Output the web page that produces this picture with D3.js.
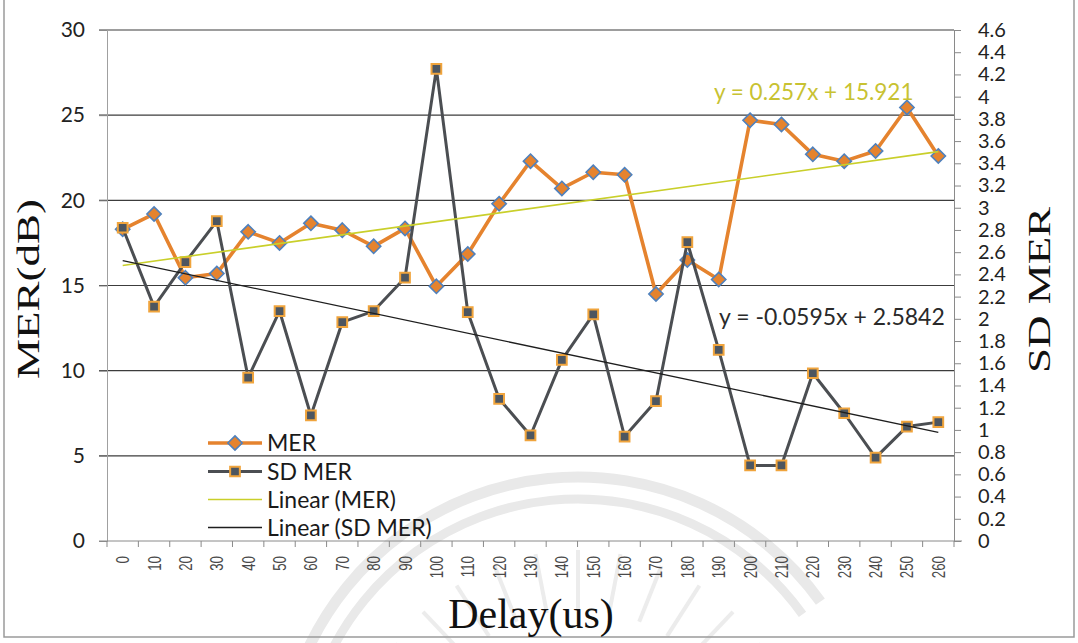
<!DOCTYPE html>
<html><head><meta charset="utf-8">
<script src="https://cdn.jsdelivr.net/npm/d3@7"></script>
<style>body{margin:0;background:#fff}svg{display:block}</style>
</head><body>
<svg id="chart" width="1078" height="643"></svg>
<script>
// Delay sweep (us) and the measured MER statistics
const delays = [0,10,20,30,40,50,60,70,80,90,100,110,120,130,140,150,160,170,180,190,200,210,220,230,240,250,260];
const mer = [18.3,19.2,15.45,15.7,18.15,17.5,18.65,18.25,17.3,18.35,14.95,16.85,19.8,22.3,20.7,21.65,21.5,14.5,16.5,15.35,24.7,24.45,22.7,22.3,22.9,25.45,22.6];
const sdMer = [2.82,2.11,2.51,2.88,1.47,2.07,1.13,1.97,2.07,2.37,4.25,2.06,1.28,0.95,1.63,2.04,0.94,1.26,2.69,1.72,0.68,0.68,1.51,1.15,0.75,1.03,1.07];
const merTicks = [0,5,10,15,20,25,30];
const sdTicks = [0,0.2,0.4,0.6,0.8,1,1.2,1.4,1.6,1.8,2,2.2,2.4,2.6,2.8,3,3.2,3.4,3.6,3.8,4,4.2,4.4,4.6];
// Linear trend coefficients [slope, intercept] over point index 1..n
const merFit = [0.257, 15.921];
const sdFit = [-0.0595, 2.5842];
const merFitLabel = "y = 0.257x + 15.921";
const sdFitLabel = "y = -0.0595x + 2.5842";
const legendLabels = ["MER", "SD MER", "Linear (MER)", "Linear (SD MER)"];

const svg = d3.select("#chart");
const L = 107, R = 954, T = 30, B = 541;
const sans = "Lato, 'Open Sans', sans-serif";
const serif = "'Liberation Serif', 'DejaVu Serif', serif";

const x = d3.scaleBand().domain(delays).range([L, R]);
const cx = d => x(d) + x.bandwidth() / 2;
const yL = d3.scaleLinear().domain([0, 30]).range([B, T]);
const yR = d3.scaleLinear().domain([0, 4.6]).range([B, T]);

// faint background emblem
const wm = svg.append("g");
const wc = [578, 775];
[[298, 11], [276, 9]].forEach(([r, w]) => {
  wm.append("path")
    .attr("d", d3.arc().innerRadius(r - w / 2).outerRadius(r + w / 2).startAngle(-1.15).endAngle(0.95)())
    .attr("transform", `translate(${wc})`).attr("fill", "#e9e9e9");
});
d3.range(-0.95, 0.96, 0.19).forEach(a => {
  const r0 = 165, r1 = 225;
  wm.append("line")
    .attr("x1", wc[0] + r0 * Math.sin(a)).attr("y1", wc[1] - r0 * Math.cos(a))
    .attr("x2", wc[0] + r1 * Math.sin(a)).attr("y2", wc[1] - r1 * Math.cos(a))
    .attr("stroke-width", 4).attr("stroke", "#ececec");
});

// outer frame
svg.append("path").attr("d", "M4,0 V637 H1074 V0").attr("fill", "none").attr("stroke", "#9a9a9a").attr("stroke-width", 1.5);

// horizontal gridlines on the primary scale
svg.append("g").selectAll("line").data(merTicks.filter(v => v > 0)).join("line")
  .attr("x1", L - 8).attr("x2", R).attr("y1", d => yL(d)).attr("y2", d => yL(d))
  .attr("stroke", "#3c3c3c").attr("stroke-width", 1.2);

// left axis
const gL = svg.append("g").attr("transform", `translate(${L},0)`)
  .call(d3.axisLeft(yL).tickValues(merTicks).tickSize(8).tickPadding(14).tickFormat(d3.format("d")));
gL.select(".domain").attr("stroke", "#a0a0a0");
gL.selectAll(".tick line").attr("stroke", "#8a8a8a");
gL.selectAll("text").attr("font-family", sans).attr("font-size", 21).attr("fill", "#222");

// right axis
const gR = svg.append("g").attr("transform", `translate(${R},0)`)
  .call(d3.axisRight(yR).tickValues(sdTicks).tickSize(7).tickPadding(17).tickFormat(d3.format("~g")));
gR.select(".domain").attr("stroke", "#8a8a8a");
gR.selectAll(".tick line").attr("stroke", "#8a8a8a");
gR.selectAll("text").attr("font-family", sans).attr("font-size", 20).attr("fill", "#222");

// bottom axis: ticks on category boundaries, rotated labels at centres
const gB = svg.append("g");
gB.append("line").attr("x1", L - 8).attr("x2", R + 8).attr("y1", B).attr("y2", B).attr("stroke", "#8a8a8a");
gB.selectAll(".bt").data(delays.concat([null])).join("line")
  .attr("x1", (d, i) => L + i * x.bandwidth()).attr("x2", (d, i) => L + i * x.bandwidth())
  .attr("y1", B).attr("y2", B + 6).attr("stroke", "#8a8a8a");
gB.selectAll("text").data(delays).join("text")
  .attr("transform", d => `translate(${cx(d)},556) rotate(-90) scale(0.74,1)`)
  .attr("text-anchor", "end").attr("dy", "0.36em")
  .attr("font-family", "'Liberation Sans', Arial, sans-serif").attr("font-size", 18).attr("fill", "#4a4a4a")
  .text(d => d);

// axis titles
svg.append("text").attr("transform", "translate(39,289) rotate(-90) scale(1,0.68)")
  .attr("text-anchor", "middle").attr("font-family", serif).attr("font-size", 45).attr("fill", "#111").text("MER(dB)");
svg.append("text").attr("transform", "translate(1050,290) rotate(-90) scale(1,0.7)")
  .attr("text-anchor", "middle").attr("font-family", serif).attr("font-size", 45).attr("fill", "#111").text("SD MER");
svg.append("text").attr("x", 531).attr("y", 628)
  .attr("text-anchor", "middle").attr("font-family", serif).attr("font-size", 42).attr("fill", "#111").text("Delay(us)");

const orange = "#E5832E", blueEdge = "#4F81BD", grayLine = "#4b4e52", sqFill = "#4d5660", sqEdge = "#F0A43C";
const diamond = d3.symbol().type(d3.symbolDiamond2).size(130);
const square = d3.symbol().type(d3.symbolSquare2).size(120);

// MER series (primary axis)
svg.append("path").datum(delays)
  .attr("d", d3.line().x(d => cx(d)).y((d, i) => yL(mer[i])))
  .attr("fill", "none").attr("stroke", orange).attr("stroke-width", 3.6).attr("stroke-linejoin", "round");
svg.append("g").selectAll("path").data(delays).join("path")
  .attr("d", diamond).attr("transform", (d, i) => `translate(${cx(d)},${yL(mer[i])})`)
  .attr("fill", orange).attr("stroke", blueEdge).attr("stroke-width", 1.6);

// SD MER series (secondary axis)
svg.append("path").datum(delays)
  .attr("d", d3.line().x(d => cx(d)).y((d, i) => yR(sdMer[i])))
  .attr("fill", "none").attr("stroke", grayLine).attr("stroke-width", 3).attr("stroke-linejoin", "round");
svg.append("g").selectAll("path").data(delays).join("path")
  .attr("d", square).attr("transform", (d, i) => `translate(${cx(d)},${yR(sdMer[i])})`)
  .attr("fill", sqFill).attr("stroke", sqEdge).attr("stroke-width", 2);

// trend lines
const first = delays[0], last = delays[delays.length - 1], n = delays.length;
svg.append("line")
  .attr("x1", cx(first)).attr("x2", cx(last))
  .attr("y1", yL(merFit[0] * 1 + merFit[1])).attr("y2", yL(merFit[0] * n + merFit[1]))
  .attr("stroke", "#C9CF2A").attr("stroke-width", 1.6);
svg.append("line")
  .attr("x1", cx(first)).attr("x2", cx(last))
  .attr("y1", yR(sdFit[0] * 1 + sdFit[1])).attr("y2", yR(sdFit[0] * n + sdFit[1]))
  .attr("stroke", "#1e1e1e").attr("stroke-width", 1.3);

svg.append("text").attr("x", 714).attr("y", 100).attr("font-family", sans).attr("font-size", 22.5)
  .attr("fill", "#C8C232").text(merFitLabel);
svg.append("text").attr("x", 719).attr("y", 325).attr("font-family", sans).attr("font-size", 23)
  .attr("fill", "#2a2a2a").text(sdFitLabel);

// legend
const lg = svg.append("g");
const ly = [443, 471.5, 499.5, 527.5];
const lx0 = 208, lx1 = 262;
lg.append("line").attr("x1", lx0).attr("x2", lx1).attr("y1", ly[0]).attr("y2", ly[0]).attr("stroke", orange).attr("stroke-width", 3.6);
lg.append("path").attr("d", diamond).attr("transform", `translate(${(lx0 + lx1) / 2},${ly[0]})`)
  .attr("fill", orange).attr("stroke", blueEdge).attr("stroke-width", 1.6);
lg.append("line").attr("x1", lx0).attr("x2", lx1).attr("y1", ly[1]).attr("y2", ly[1]).attr("stroke", grayLine).attr("stroke-width", 3);
lg.append("path").attr("d", square).attr("transform", `translate(${(lx0 + lx1) / 2},${ly[1]})`)
  .attr("fill", sqFill).attr("stroke", sqEdge).attr("stroke-width", 2);
lg.append("line").attr("x1", lx0).attr("x2", lx1).attr("y1", ly[2]).attr("y2", ly[2]).attr("stroke", "#C9CF2A").attr("stroke-width", 1.6);
lg.append("line").attr("x1", lx0).attr("x2", lx1).attr("y1", ly[3]).attr("y2", ly[3]).attr("stroke", "#1e1e1e").attr("stroke-width", 1.3);
lg.selectAll("text").data(legendLabels).join("text")
  .attr("x", 267).attr("y", (d, i) => ly[i]).attr("dy", "0.35em")
  .attr("font-family", sans).attr("font-size", 23).attr("fill", "#1a1a1a").text(d => d);
</script>
</body></html>
